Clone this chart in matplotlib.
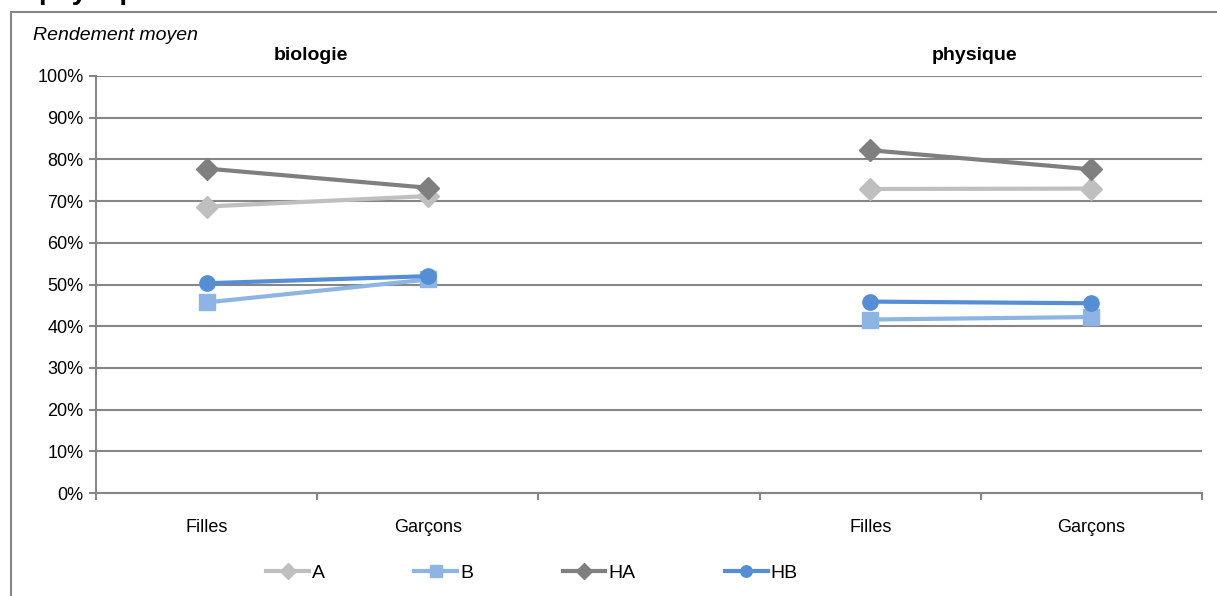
"""
Rendement moyen par matiere, filles / garcons
"""
import numpy as np
import matplotlib.pyplot as plt
from matplotlib.patches import Rectangle

plt.rcParams['font.family'] = ['Liberation Sans Narrow', 'Liberation Sans', 'DejaVu Sans']

categories = ['Filles', 'Garçons', '', 'Filles', 'Garçons']
matieres = ['biologie', 'physique']

# valeurs en % : [bio Filles, bio Garcons, physique Filles, physique Garcons]
A = [68.7, 71.2, 72.9, 73.0]
B = [45.7, 51.2, 41.6, 42.2]
HA = [77.8, 73.2, 82.2, 77.6]
HB = [50.3, 52.0, 45.9, 45.5]

series = [('A', A, '#BFBFBF', 'D', 11),
          ('B', B, '#8EB4E3', 's', 11),
          ('HA', HA, '#7F7F7F', 'D', 11),
          ('HB', HB, '#558ED5', 'o', 11)]

grid_col = '#868686'

fig = plt.figure(figsize=(12.17, 5.96), dpi=100)
ax = fig.add_axes([0.0789, 0.1728, 0.9088, 0.6997])

xpos = np.arange(len(categories)) + 0.5
groups = [xpos[0:2], xpos[3:5]]

for name, vals, col, mk, ms in series:
    for g, grp in enumerate(groups):
        ax.plot(grp, vals[2 * g:2 * g + 2], color=col, lw=3, marker=mk,
                markersize=ms, label=name if g == 0 else None, zorder=3)

ax.set_xlim(0, len(categories))
ax.set_ylim(0, 100)
ax.set_yticks(np.arange(0, 101, 10))
ax.set_yticklabels(['%d%%' % v for v in range(0, 101, 10)], fontsize=13)
ax.yaxis.grid(True, color=grid_col, lw=1.5)
ax.set_axisbelow(True)

ax.set_xticks(np.arange(0, len(categories) + 1))
ax.set_xticklabels([])
ax.set_xticks(xpos, minor=True)
ax.set_xticklabels(categories, minor=True, fontsize=13)
ax.tick_params(axis='x', which='minor', length=0, pad=19)
ax.tick_params(axis='x', which='major', length=5, color=grid_col, width=1.5)
ax.tick_params(axis='y', length=5, color=grid_col, width=1.5, pad=4)

for s in ['top', 'right']:
    ax.spines[s].set_visible(False)
for s in ['left', 'bottom']:
    ax.spines[s].set_color(grid_col)
    ax.spines[s].set_linewidth(1.5)

# titres de groupe
for m, grp in zip(matieres, groups):
    ax.text(grp.mean() - 0.03, 105, m, ha='center', va='center',
            fontsize=14, fontweight='bold', clip_on=False)

fig.text(33 / 1217, 1 - 35 / 596, 'Rendement moyen', fontsize=14,
         style='italic', ha='left', va='center')

# titre general, coupe par le haut de la figure
fig.text(38 / 1217, 1 + 1 / 596, 'physique', fontsize=20,
         fontweight='bold', ha='left', va='baseline')

# cadre exterieur
fig.patches.append(Rectangle((11 / 1217, -0.05), 1.1, 1 - 12 / 596 + 0.05,
                             transform=fig.transFigure, fill=False,
                             edgecolor=grid_col, lw=1.5))

leg = ax.legend(loc='center', bbox_to_anchor=(532 / 1217, 1 - 573 / 596),
                bbox_transform=fig.transFigure, ncol=4, frameon=False,
                fontsize=14, markerscale=0.75, handlelength=2.2,
                handletextpad=0.15, columnspacing=4.6)

fig.savefig('out.png', dpi=100)
